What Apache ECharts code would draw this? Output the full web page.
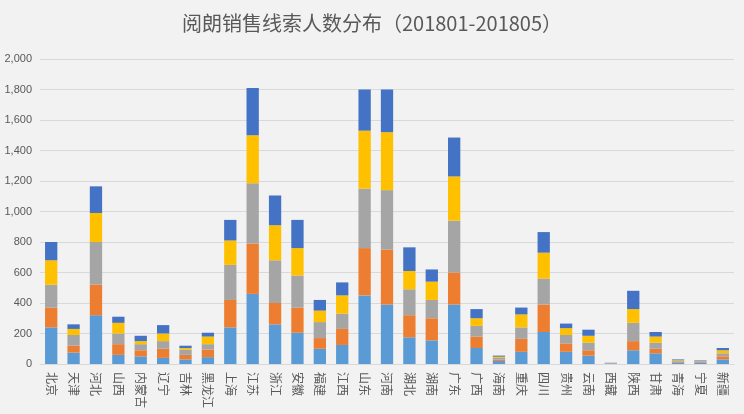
<!DOCTYPE html>
<html>
<head>
<meta charset="utf-8">
<script src="https://cdn.jsdelivr.net/npm/echarts@6/dist/echarts.min.js"></script>
<style>html,body{margin:0;padding:0;background:#f2f2f2;}#main{width:744px;height:414px;}</style>
</head>
<body>
<div id="main"></div>
<script>
var provinces = ['北京','天津','河北','山西','内蒙古','辽宁','吉林','黑龙江','上海','江苏','浙江','安徽','福建','江西','山东','河南','湖北','湖南','广东','广西','海南','重庆','四川','贵州','云南','西藏','陕西','甘肃','青海','宁夏','新疆'];
var months = ['201801','201802','201803','201804','201805'];
var jan = [240,75,320,60,50,40,30,45,240,460,260,205,100,125,450,390,175,155,390,105,20,80,210,80,55,2,90,70,10,10,30];
var feb = [130,45,200,70,40,60,30,50,180,330,140,165,70,105,310,360,145,145,210,75,10,85,180,55,35,1,60,30,5,5,20];
var mar = [150,70,280,70,40,50,35,35,230,395,280,210,105,100,390,390,170,120,340,70,10,75,170,55,50,1,120,40,5,5,20];
var apr = [160,40,190,70,20,50,10,50,160,315,230,180,75,120,380,380,120,120,290,50,8,85,170,45,45,1,90,40,5,2,20];
var may = [120,30,175,40,35,55,15,25,135,310,195,185,70,85,270,280,155,80,255,60,7,45,135,30,40,3,120,30,5,3,15];
var colors = ['#5b9bd5','#ed7d31','#a5a5a5','#ffc000','#4472c4'];
var seriesData = [jan, feb, mar, apr, may];

var chart = echarts.init(document.getElementById('main'));
chart.setOption({
    backgroundColor: '#f2f2f2',
    animation: false,
    title: {
        text: '阅朗销售线索人数分布（201801-201805）',
        left: 'center',
        top: 8,
        textStyle: {color: '#595959', fontSize: 20, fontWeight: 'normal', fontFamily: 'Noto Sans CJK SC'}
    },
    grid: {left: 40, right: 10, top: 59, bottom: 50},
    xAxis: {
        type: 'category',
        data: provinces,
        axisTick: {show: false},
        axisLine: {lineStyle: {color: '#d9d9d9'}},
        axisLabel: {rotate: -90, interval: 0, color: '#595959', fontSize: 12, fontFamily: 'Noto Sans CJK SC'}
    },
    yAxis: {
        type: 'value',
        min: 0, max: 2000, interval: 200,
        axisLabel: {color: '#595959', fontSize: 11},
        splitLine: {lineStyle: {color: '#d9d9d9'}}
    },
    series: seriesData.map(function (d, i) {
        return {
            name: months[i],
            type: 'bar',
            stack: 'total',
            barWidth: '55%',
            itemStyle: {color: colors[i]},
            data: d
        };
    })
});
</script>
</body>
</html>
